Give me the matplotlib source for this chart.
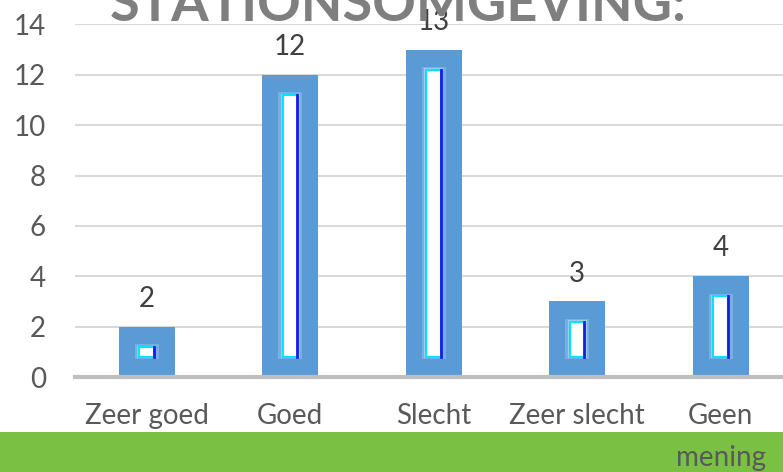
import matplotlib
matplotlib.use('Agg')
import matplotlib.pyplot as plt
from matplotlib.patches import Rectangle

plt.rcParams['font.family'] = ['Lato', 'DejaVu Sans']

categories = ['Zeer goed', 'Goed', 'Slecht', 'Zeer slecht', 'Geen\nmening']
counts = [2, 12, 13, 3, 4]
yticks = [0, 2, 4, 6, 8, 10, 12, 14]
title = 'STATIONSOMGEVING:'

bar_blue = '#5B9BD5'
text_grey = '#595959'

fig = plt.figure(figsize=(7.83, 4.72), dpi=100)
fig.patch.set_facecolor('white')

# green band along the bottom
fig.patches.append(Rectangle((0, 0), 1, 40 / 472, transform=fig.transFigure,
                             facecolor='#7AC143', edgecolor='none', zorder=-5))

ax = fig.add_axes([75 / 783, 95 / 472, 717.5 / 783, 352.6 / 472])
ax.set_facecolor('none')
x = list(range(len(categories)))
ax.bar(x, counts, width=0.39, color=bar_blue, zorder=3)

# inner light strip of each bar (gradient-ish look)
for xi, v in zip(x, counts):
    h = v - 1.6
    ax.add_patch(Rectangle((xi - 0.085, 0.7), 0.17, h + 0.2, facecolor='#7FB5E8',
                           edgecolor='none', alpha=0.8, zorder=4))
    ax.add_patch(Rectangle((xi - 0.065, 0.75), 0.13, h + 0.1, facecolor='#A5D8F5',
                           edgecolor='none', alpha=0.8, zorder=4))
    ax.add_patch(Rectangle((xi - 0.052, 0.8), 0.105, h, facecolor='white',
                           edgecolor='#00E5FF', linewidth=1.5, zorder=5))
    ax.plot([xi + 0.048, xi + 0.048], [0.8, 0.8 + h], color='#1A1AE6', lw=2, zorder=6)
    ax.annotate(str(v), (xi, v), xytext=(0, 20), textcoords='offset points',
                ha='center', va='center', fontsize=20, color='#404040', zorder=7)

ax.set_xlim(-0.5, 4.5)
ax.set_ylim(0, 14)
ax.set_yticks(yticks)
ax.yaxis.grid(True, color='#D9D9D9', linewidth=1.5, zorder=0)
ax.set_axisbelow(True)
for s in ['top', 'right', 'left']:
    ax.spines[s].set_visible(False)
ax.spines['bottom'].set_color('#BFBFBF')
ax.spines['bottom'].set_linewidth(3)
ax.spines['bottom'].set_zorder(8)
ax.set_xticks(x)
ax.set_xticklabels(categories, linespacing=1.75)
ax.tick_params(axis='both', length=0, labelsize=20, colors=text_grey)
ax.tick_params(axis='y', pad=21)
ax.tick_params(axis='x', pad=19)

fig.text(398 / 783, 451 / 472, title, ha='center', va='baseline', fontsize=39,
         fontweight='bold', color='#7F7F7F', zorder=10)

fig.savefig('out.png', dpi=100)
